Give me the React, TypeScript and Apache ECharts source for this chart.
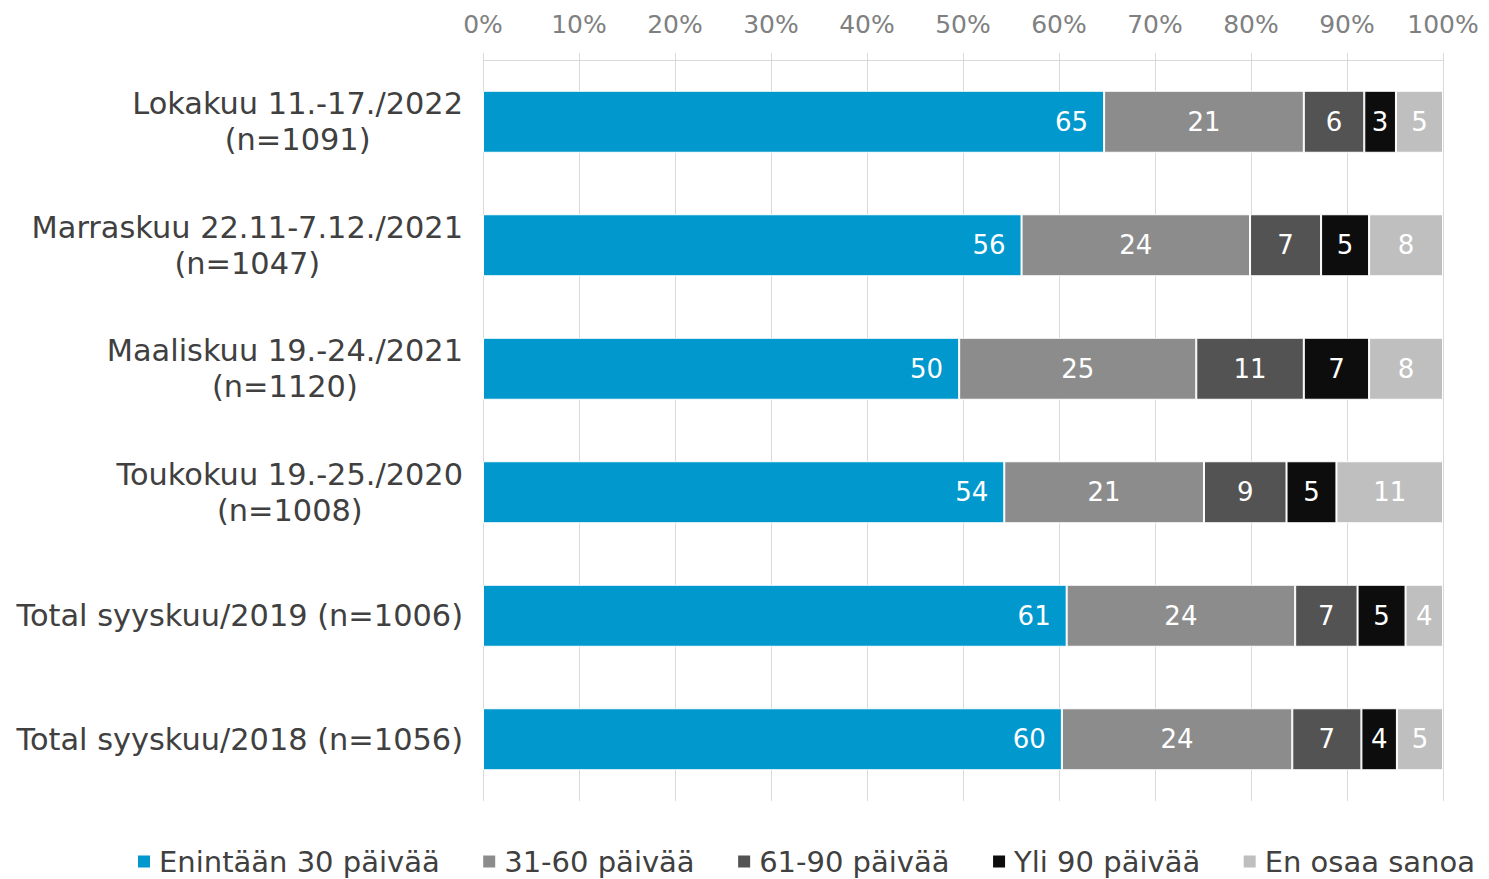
import React, { useEffect, useRef } from "react";
import * as echarts from "echarts";

const categories = [
  "Lokakuu 11.-17./2022\n(n=1091)",
  "Marraskuu 22.11-7.12./2021\n(n=1047)",
  "Maaliskuu 19.-24./2021\n(n=1120)",
  "Toukokuu 19.-25./2020\n(n=1008)",
  "Total syyskuu/2019 (n=1006)",
  "Total syyskuu/2018 (n=1056)",
];

const seriesNames = [
  "Enintään 30 päivää",
  "31-60 päivää",
  "61-90 päivää",
  "Yli 90 päivää",
  "En osaa sanoa",
];

const enintaan30 = [64.7, 56.1, 49.6, 54.3, 60.8, 60.3];
const paivaa31to60 = [20.8, 23.8, 24.7, 20.8, 23.8, 24.0];
const paivaa61to90 = [6.3, 7.4, 11.2, 8.6, 6.5, 7.2];
const yli90 = [3.3, 5.0, 6.8, 5.2, 5.0, 3.7];
const enOsaaSanoa = [4.9, 7.7, 7.7, 11.1, 3.9, 4.8];

const xTicks = [0, 10, 20, 30, 40, 50, 60, 70, 80, 90, 100];

const colors = ["#0098CD", "#8C8C8C", "#535353", "#0D0D0D", "#BFBFBF"];

const FONT = "'DejaVu Sans', Verdana, sans-serif";

export default function App() {
  const ref = useRef<HTMLDivElement>(null);

  useEffect(() => {
    document.body.style.margin = "0";
    if (!ref.current) return;
    const chart = echarts.init(ref.current, null, { renderer: "svg" });
    const allData = [enintaan30, paivaa31to60, paivaa61to90, yli90, enOsaaSanoa];

    const series = allData.map((d, i) => ({
      name: seriesNames[i],
      type: "bar",
      stack: "total",
      barWidth: 62,
      data: d,
      itemStyle: { color: colors[i], borderColor: "#ffffff", borderWidth: 1 },
      label: {
        show: true,
        position: i === 0 ? "insideRight" : "inside",
        distance: 16,
        color: "#ffffff",
        fontSize: 26,
        fontFamily: FONT,
        formatter: (p: any) => String(Math.round(p.value)),
      },
      emphasis: { disabled: true },
    }));

    chart.setOption({
      animation: false,
      backgroundColor: "#ffffff",
      grid: { left: 483, right: 46, top: 60, bottom: 78 },
      legend: {
        data: seriesNames,
        left: 136,
        top: 847,
        padding: 0,
        itemWidth: 14,
        itemHeight: 14,
        itemGap: 41.5,
        icon: "rect",
        textStyle: {
          fontSize: 29,
          fontFamily: FONT,
          color: "#404040",
          padding: [0, 0, 0, 3],
        },
      },
      xAxis: {
        type: "value",
        position: "top",
        min: xTicks[0],
        max: xTicks[xTicks.length - 1],
        interval: xTicks[1] - xTicks[0],
        axisLine: { show: true, lineStyle: { color: "#d9d9d9", width: 1 } },
        axisTick: { show: true, length: 7, lineStyle: { color: "#d9d9d9" } },
        splitLine: { show: true, lineStyle: { color: "#d9d9d9", width: 1 } },
        axisLabel: {
          formatter: "{value}%",
          color: "#808080",
          fontSize: 25,
          fontFamily: FONT,
          margin: 23,
        },
      },
      yAxis: {
        type: "category",
        inverse: true,
        data: categories,
        axisLine: { show: false },
        axisTick: { show: false },
        axisLabel: {
          margin: 20,
          color: "#404040",
          fontSize: 30.4,
          fontFamily: FONT,
          align: "right",
          formatter: (value: string) =>
            value
              .split("\n")
              .map((l) => `{c|${l}}`)
              .join("\n"),
          rich: {
            c: {
              align: "center",
              fontSize: 30.4,
              fontFamily: FONT,
              color: "#404040",
              lineHeight: 36,
            },
          },
        },
      },
      series,
    });

    return () => chart.dispose();
  }, []);

  return <div ref={ref} style={{ width: 1489, height: 879 }} />;
}
